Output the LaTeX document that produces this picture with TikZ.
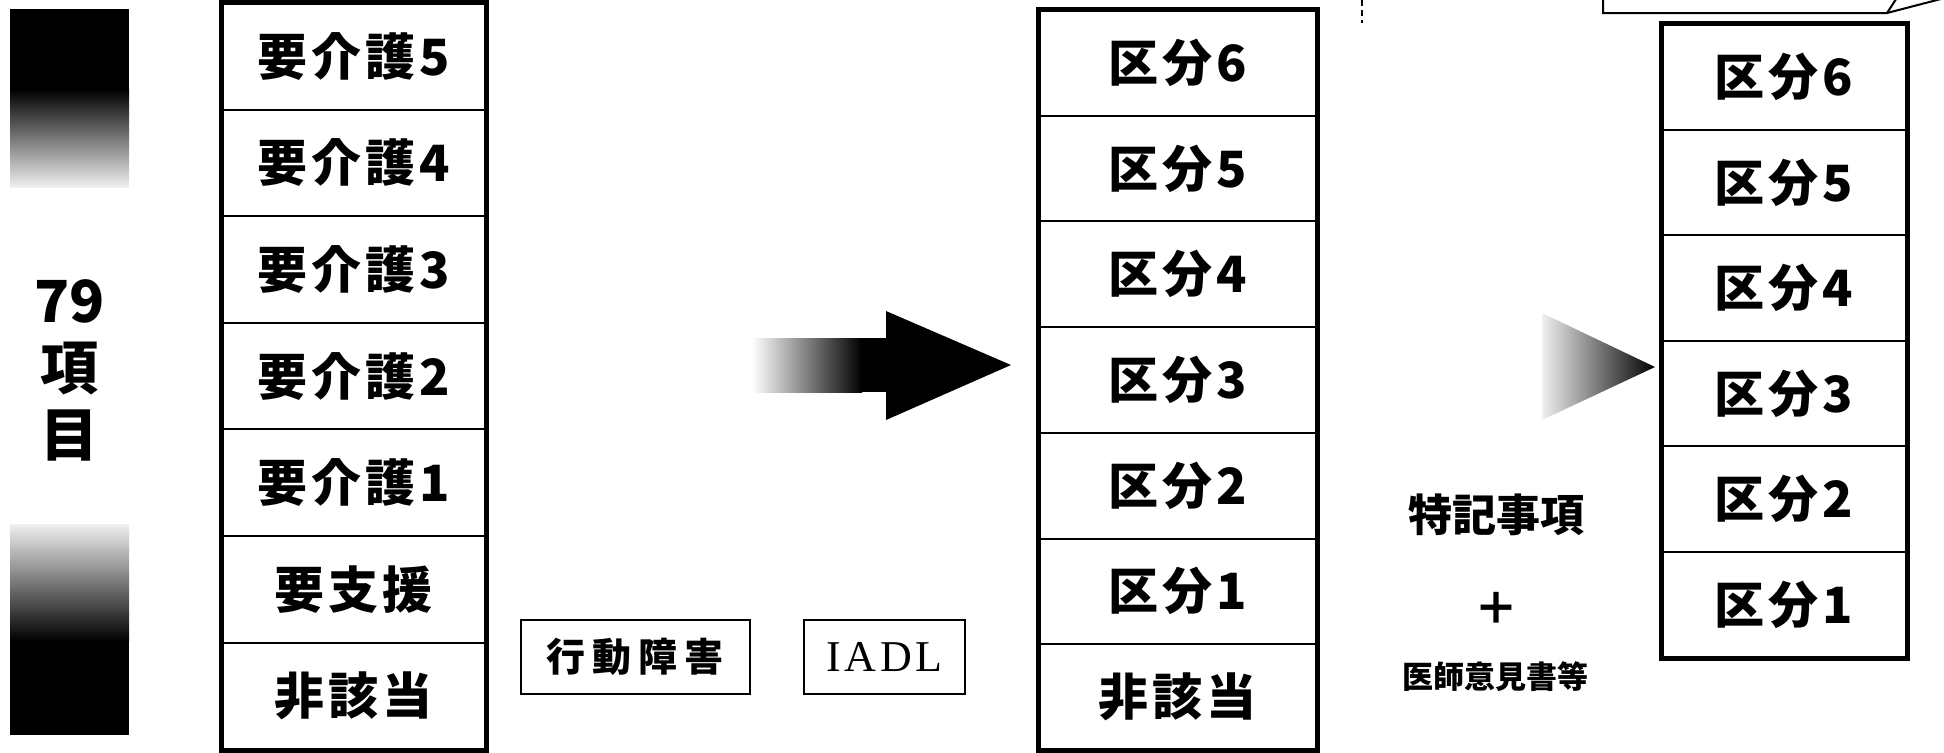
\documentclass[tikz,border=0pt]{standalone}
\usepackage{fontspec}
\setmainfont{Noto Sans CJK JP}
\newfontfamily\romanfont{Liberation Serif}[LetterSpace=8]
\usetikzlibrary{positioning}
\def\cellfont{\bfseries\fontsize{25}{25}\selectfont\addfontfeature{LetterSpace=8}}
\def\itemfont{\bfseries\fontsize{29}{33.5}\selectfont}
\def\tagfont{\bfseries\fontsize{19.5}{19.5}\selectfont\addfontfeature{LetterSpace=18}}
\colorlet{bar dark}{black}
\colorlet{bar light}{black!6}
\tikzset{cell/.style={draw, line width=1pt, inner sep=0pt, font=\cellfont},
    frame/.style={draw, line width=2.5pt},
    tagbox/.style={draw, line width=1pt, inner sep=0pt, minimum height=37pt},
    note/.style={font=\bfseries\fontsize{22}{22}\selectfont}}

\begin{document}
\begin{tikzpicture}[x=0.5pt, y=-0.5pt]
    \useasboundingbox (0,0) rectangle (1944,752);
    % left bars
    \fill[bar dark] (10,9) rectangle (129,90);
    \shade[top color=bar dark, middle color=black!55, bottom color=bar light] (10,89) rectangle (129,187);
    \shade[top color=bar light, middle color=black!55, bottom color=bar dark] (10,524) rectangle (129,641);
    \fill[bar dark] (10,640) rectangle (129,735);
    \node[font=\itemfont, align=center] (items) at (70,370) {79\\項\\目};
    % first stage
    \foreach \t [count=\i] in {要介護5,要介護4,要介護3,要介護2,要介護1,要支援,非該当}
        \node[cell, minimum width=131.5pt, minimum height=53.3pt] (care-\i)
            at (353.5, 3+106.6*\i-53.3) {\t};
    \draw[frame] (care-1.north west) rectangle (care-7.south east);
    \node[tagbox, minimum width=114.5pt, font=\tagfont] (behav) at (635.5,657) {行動障害};
    \node[tagbox, minimum width=80.5pt, right=26pt of behav, font=\romanfont\fontsize{22}{22}\selectfont] (iadl) {IADL};
    % big arrow
    \shade[left color=white, right color=bar dark] (752,338) rectangle (862,392);
    \fill[bar dark] (860,338) rectangle (887,392);
    \fill[bar dark] (886,311) -- (1011,365) -- (886,420) -- cycle;
    % second stage
    \foreach \t [count=\i] in {区分6,区分5,区分4,区分3,区分2,区分1,非該当}
        \node[cell, minimum width=138.5pt, minimum height=52.85pt] (grade-\i)
            at (1177.5, 10+105.7*\i-52.85) {\t};
    \draw[frame] (grade-1.north west) rectangle (grade-7.south east);
    \draw[dashed, dash pattern=on 3pt off 2pt, line width=0.8pt] (1362,0) -- (1362,23);
    \node[note] (notes) at (1496,515) {特記事項};
    \node[font=\bfseries\fontsize{22}{22}\selectfont] (plus) at (1496,608) {＋};
    \node[font=\bfseries\fontsize{15.5}{15.5}\selectfont] (opinion) at (1495,677) {医師意見書等};
    \shade[left color=bar light, middle color=black!80, right color=bar dark]
        (1542,313) -- (1655,367) -- (1542,420) -- cycle;
    % final stage
    \foreach \t [count=\i] in {区分6,区分5,区分4,区分3,区分2,区分1}
        \node[cell, minimum width=122pt, minimum height=52.8pt] (final-\i)
            at (1784, 24+105.6*\i-52.8) {\t};
    \draw[frame] (final-1.north west) rectangle (final-6.south east);
    % callout
    \draw[line width=1pt] (1603,-20) -- (1603,13) -- (1887,13) -- (1960,-6);
    \draw[line width=1pt] (1887,13) -- (1902,-10);
\end{tikzpicture}
\end{document}
